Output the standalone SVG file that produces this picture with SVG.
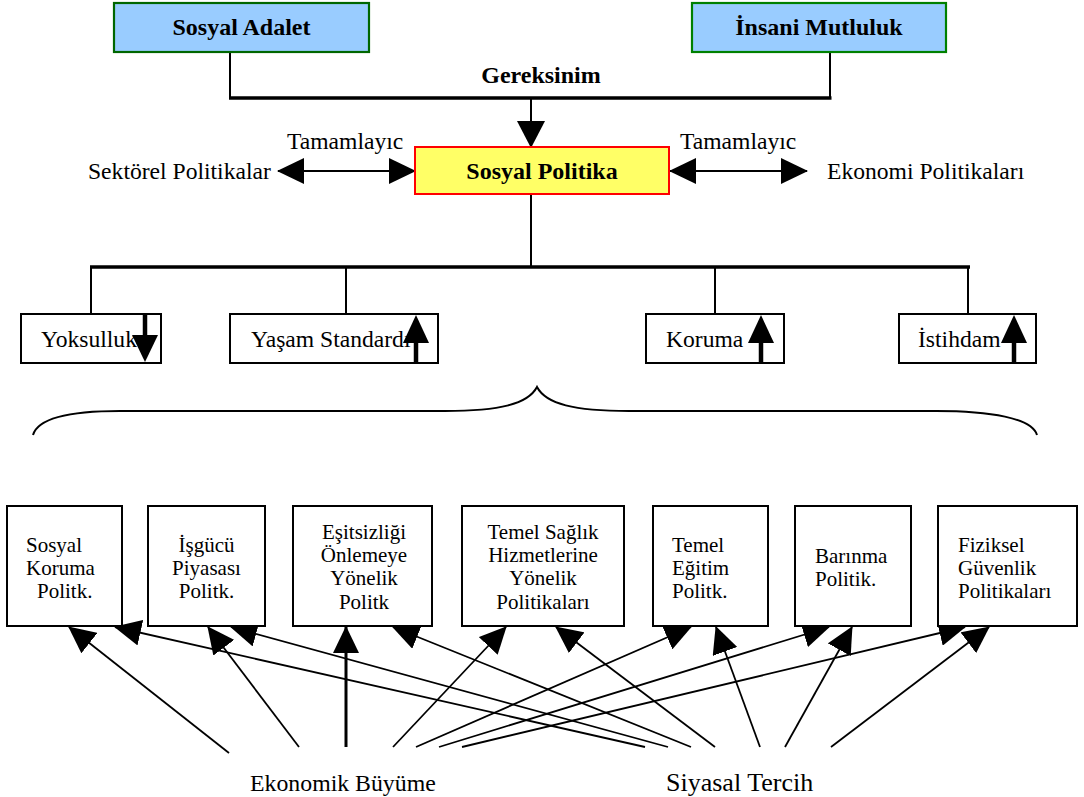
<svg xmlns="http://www.w3.org/2000/svg" width="1084" height="797" viewBox="0 0 1084 797">
<style>
text{font-family:"Liberation Serif","Times New Roman",serif;fill:#000}
.b{font-weight:bold;font-size:24px}
.m{font-size:23.6px}
.s{font-size:21px}
.c{text-anchor:middle}
.box{fill:#fff;stroke:#000;stroke-width:2}
.ln{stroke:#000;stroke-width:2;fill:none}
.thick{stroke:#000;stroke-width:3.5;fill:none}
.ar{stroke:#000;stroke-width:1.8;fill:none;marker-end:url(#ah)}
</style>
<defs>
<marker id="ah" viewBox="0 0 27 26" refX="26" refY="13" markerWidth="27" markerHeight="26" markerUnits="userSpaceOnUse" orient="auto-start-reverse">
<path d="M0,0 L27,13 L0,26 z" fill="#000"/>
</marker>
<marker id="ahb" viewBox="0 0 27 28" refX="26" refY="14" markerWidth="27" markerHeight="28" markerUnits="userSpaceOnUse" orient="auto">
<path d="M0,0 L27,14 L0,28 z" fill="#000"/>
</marker>
</defs>
<rect width="1084" height="797" fill="#fff"/>

<g id="connectors">
<polyline class="ln" points="230,52 230,98"/>
<polyline class="ln" points="830,52 830,98"/>
<line class="thick" x1="229" y1="98" x2="831.5" y2="98"/>
<line stroke="#000" stroke-width="2" x1="531" y1="98" x2="531" y2="147" marker-end="url(#ahb)"/>
<line stroke="#000" stroke-width="2" x1="278" y1="171" x2="415" y2="171" marker-start="url(#ah)" marker-end="url(#ah)"/>
<line stroke="#000" stroke-width="2" x1="670" y1="171" x2="807" y2="171" marker-start="url(#ah)" marker-end="url(#ah)"/>
<line class="ln" x1="531" y1="194" x2="531" y2="267"/>
<line class="thick" x1="90" y1="267" x2="970" y2="267"/>
<line class="ln" x1="91" y1="267" x2="91" y2="314"/>
<line class="ln" x1="346" y1="267" x2="346" y2="314"/>
<line class="ln" x1="715" y1="267" x2="715" y2="314"/>
<line class="ln" x1="968" y1="267" x2="968" y2="314"/>
<path class="ln" d="M33,435 C38,418 70,411 120,411 L445,411 C500,411 528,404 537,387 C546,404 574,411 629,411 L936,411 C990,411 1032,418 1037,435"/>
<!-- Ekonomik Büyüme arrows -->
<line class="ar" x1="229" y1="753" x2="69" y2="627"/>
<line class="ar" x1="299" y1="747" x2="208" y2="627"/>
<line class="ar" x1="346" y1="747" x2="346" y2="627" style="stroke-width:3"/>
<line class="ar" x1="393" y1="747" x2="506" y2="627"/>
<line class="ar" x1="416" y1="747" x2="691" y2="627"/>
<line class="ar" x1="439" y1="747" x2="829" y2="627"/>
<line class="ar" x1="462" y1="747" x2="965" y2="627"/>
<!-- Siyasal Tercih arrows -->
<line class="ar" x1="645" y1="747" x2="115" y2="627"/>
<line class="ar" x1="668" y1="747" x2="231" y2="627"/>
<line class="ar" x1="691" y1="747" x2="393" y2="627"/>
<line class="ar" x1="715" y1="747" x2="556" y2="627"/>
<line class="ar" x1="760" y1="747" x2="716" y2="627"/>
<line class="ar" x1="785" y1="747" x2="852" y2="627"/>
<line class="ar" x1="831" y1="747" x2="989" y2="627"/>
</g>

<g id="sosyal-adalet">
<rect x="114" y="3" width="255" height="49" fill="#99CCFF" stroke="#006600" stroke-width="2.2"/>
<text class="b c" x="241.5" y="35">Sosyal Adalet</text>
</g>
<g id="insani-mutluluk">
<rect x="692" y="3" width="254" height="49" fill="#99CCFF" stroke="#008000" stroke-width="2.2"/>
<text class="b c" x="819" y="35">İnsani Mutluluk</text>
</g>
<g id="gereksinim">
<text class="b c" x="541" y="83">Gereksinim</text>
</g>
<g id="sosyal-politika">
<rect x="415" y="147" width="254" height="47" fill="#FFFF66" stroke="#FF0000" stroke-width="2"/>
<text class="b c" x="542" y="179">Sosyal Politika</text>
</g>
<g id="tamamlayici-sol"><text class="m" x="287" y="149">Tamamlayıc</text></g>
<g id="tamamlayici-sag"><text class="m" x="680" y="149">Tamamlayıc</text></g>
<g id="sektorel"><text class="m" x="88" y="179">Sektörel Politikalar</text></g>
<g id="ekonomi-pol"><text class="m" x="827" y="179">Ekonomi Politikaları</text></g>

<g id="yoksulluk">
<rect class="box" x="21" y="314" width="140" height="49"/>
<text class="m" x="41" y="347">Yoksulluk</text>
<line stroke="#000" stroke-width="4.5" x1="145" y1="314" x2="145" y2="337"/>
<path d="M132,335 L158,335 L145,362 z" fill="#000"/>
</g>
<g id="yasam">
<rect class="box" x="230" y="314" width="208" height="49"/>
<text class="m" x="251" y="347">Yaşam Standardı</text>
<line stroke="#000" stroke-width="4.5" x1="416" y1="341" x2="416" y2="363"/>
<path d="M403,343 L429,343 L416,315 z" fill="#000"/>
</g>
<g id="koruma">
<rect class="box" x="646" y="314" width="138" height="49"/>
<text class="m" x="666" y="347">Koruma</text>
<line stroke="#000" stroke-width="4.5" x1="761" y1="341" x2="761" y2="363"/>
<path d="M748,343 L774,343 L761,315 z" fill="#000"/>
</g>
<g id="istihdam">
<rect class="box" x="899" y="314" width="137" height="49"/>
<text class="m" x="918" y="347">İstihdam</text>
<line stroke="#000" stroke-width="4.5" x1="1014" y1="341" x2="1014" y2="363"/>
<path d="M1001,343 L1027,343 L1014,315 z" fill="#000"/>
</g>

<g id="sosyal-koruma">
<rect class="box" x="7" y="506" width="115" height="120"/>
<text class="s" x="26" y="552">Sosyal</text>
<text class="s" x="26" y="575">Koruma</text>
<text class="s" x="37" y="598">Politk.</text>
</g>
<g id="isgucu">
<rect class="box" x="148" y="506" width="117" height="120"/>
<text class="s c" x="206.5" y="552">İşgücü</text>
<text class="s c" x="206.5" y="575">Piyasası</text>
<text class="s c" x="206.5" y="598">Politk.</text>
</g>
<g id="esitsizlik">
<rect class="box" x="293" y="506" width="139" height="120"/>
<text class="s c" x="364" y="539">Eşitsizliği</text>
<text class="s c" x="364" y="562">Önlemeye</text>
<text class="s c" x="364" y="585">Yönelik</text>
<text class="s c" x="364" y="609">Politk</text>
</g>
<g id="saglik">
<rect class="box" x="462" y="506" width="162" height="120"/>
<text class="s c" x="543" y="539">Temel Sağlık</text>
<text class="s c" x="543" y="562">Hizmetlerine</text>
<text class="s c" x="543" y="585">Yönelik</text>
<text class="s c" x="543" y="609">Politikaları</text>
</g>
<g id="egitim">
<rect class="box" x="653" y="506" width="115" height="120"/>
<text class="s" x="672" y="552">Temel</text>
<text class="s" x="672" y="575">Eğitim</text>
<text class="s" x="672" y="598">Politk.</text>
</g>
<g id="barinma">
<rect class="box" x="795" y="506" width="116" height="120"/>
<text class="s" x="815" y="563">Barınma</text>
<text class="s" x="815" y="586">Politik.</text>
</g>
<g id="fiziksel">
<rect class="box" x="938" y="506" width="139" height="120"/>
<text class="s" x="958" y="552">Fiziksel</text>
<text class="s" x="958" y="575">Güvenlik</text>
<text class="s" x="958" y="598">Politikaları</text>
</g>

<g id="ekonomik-buyume"><text style="font-size:23.8px" x="250" y="791">Ekonomik Büyüme</text></g>
<g id="siyasal-tercih"><text style="font-size:26px" x="666" y="791">Siyasal Tercih</text></g>
</svg>
